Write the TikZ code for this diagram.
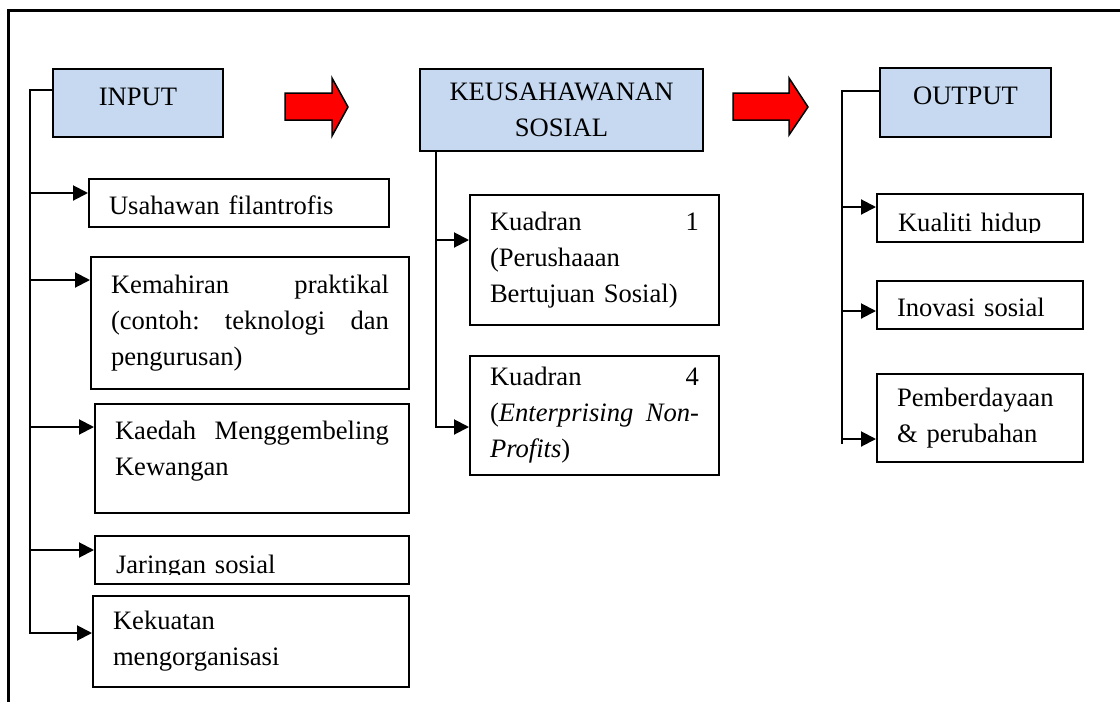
\documentclass[tikz,border=0pt]{standalone}
\usepackage{fontspec}
\setmainfont{Liberation Serif}
\usetikzlibrary{arrows.meta}
\definecolor{headblue}{HTML}{C6D9F1}

\begin{document}
\begin{tikzpicture}[x=1pt, y=-1pt,
    font=\fontsize{26.6}{36}\selectfont,
    header/.style={draw, fill=headblue, line width=2pt, anchor=north west, inner sep=0pt, align=center},
    box/.style={draw, line width=2pt, anchor=north west, inner xsep=20pt, inner ysep=0pt, align=left},
    oneline/.style={box, text height=35pt, text depth=13pt},
    cut text/.style={oneline, path picture={
        \clip ([yshift=10pt]path picture bounding box.south west) rectangle (path picture bounding box.north east);
        \node[anchor=base west, inner sep=0pt, path picture={}] at ([shift={(20,-11)}]path picture bounding box.south west) {#1};}},
    bus/.style={line width=2pt, line cap=rect},
    link/.style={line width=2pt, -{Triangle[length=15pt, width=15pt]}},
    bigarrow/.style={fill=red, draw=black, line width=1.5pt},
  ]
  \useasboundingbox (0,0) rectangle (1120,702);
  \draw[line width=3pt] (8.5,702) -- (8.5,10) -- (1120,10);

  \node[header, minimum width=170pt, text height=36pt, text depth=32pt] (input) at (52,68) {INPUT};
  \node[header, text width=283pt, minimum height=82pt] (keus) at (419,68) {KEUSAHAWANAN\\SOSIAL};
  \node[header, minimum width=171pt, text height=36pt, text depth=33pt] (output) at (879,67) {OUTPUT};

  \draw[bigarrow] (285,93) -- (332,93) -- (332,78) -- (348,107) -- (332,136) -- (332,120) -- (285,120) -- cycle;
  \draw[bigarrow] (733,93) -- (789,93) -- (789,78) -- (808,107) -- (789,135) -- (789,120) -- (733,120) -- cycle;

  \node[oneline, text width=260pt] (usahawan) at (88,178) {Usahawan filantrofis};
  \node[box, text width=278pt, minimum height=132pt] (kemahiran) at (90,256) {Kemahiran\hfill praktikal\\(contoh:\hfill teknologi\hfill dan\\pengurusan)};
  \node[box, text width=274pt, minimum height=109pt, text depth=56pt] (kaedah) at (94,403) {Kaedah\hfill Menggembeling\\Kewangan};
  \node[cut text=Jaringan sosial, text width=274pt] (jaringan) at (94,535) {};
  \node[box, text width=276pt, minimum height=91pt] (kekuatan) at (92,595) {Kekuatan\\mengorganisasi};

  \node[box, text width=209pt, minimum height=130pt] (kuadran1) at (469,194) {Kuadran\hfill 1\\(Perushaaan\\Bertujuan Sosial)};
  \node[box, text width=209pt, minimum height=119pt] (kuadran4) at (469,355) {Kuadran\hfill 4\\(\textit{Enterprising}\hfill\textit{Non-}\\\textit{Profits})};

  \node[cut text=Kualiti hidup, text width=166pt] (kualiti) at (876,193) {};
  \node[oneline, text width=166pt] (inovasi) at (876,280) {Inovasi sosial};
  \node[box, text width=166pt, minimum height=88pt] (pemberdayaan) at (876,373) {Pemberdayaan\\\& perubahan};

  \coordinate (ibus) at (30,90);
  \draw[bus] (input.west |- ibus) -- (ibus) -- (ibus |- 0,633);
  \foreach \n/\y in {usahawan/193, kemahiran/280, kaedah/427, jaringan/550, kekuatan/633}
    \draw[link] (ibus |- 0,\y) -- (\n.west |- 0,\y);

  \coordinate (kbus) at ([xshift=17pt]keus.south west);
  \draw[bus] (kbus) -- (kbus |- 0,427);
  \foreach \n/\y in {kuadran1/240, kuadran4/427}
    \draw[link] (kbus |- 0,\y) -- (\n.west |- 0,\y);

  \coordinate (obus) at (842,91);
  \draw[bus] (output.west |- obus) -- (obus) -- (obus |- 0,443);
  \foreach \n/\y in {kualiti/207, inovasi/311, pemberdayaan/439}
    \draw[link] (obus |- 0,\y) -- (\n.west |- 0,\y);
\end{tikzpicture}
\end{document}
